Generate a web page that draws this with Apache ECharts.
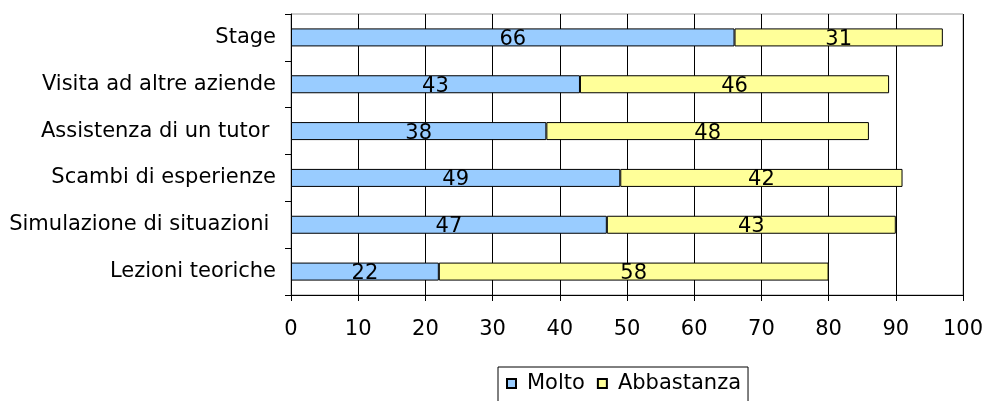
<!DOCTYPE html>
<html><head><meta charset="utf-8">
<script src="https://cdn.jsdelivr.net/npm/echarts@6/dist/echarts.min.js"></script>
<style>html,body{margin:0;padding:0;background:#fff}#c{width:987px;height:401px}</style>
</head><body><div id="c"></div>
<script>
const categories = ["Lezioni teoriche","Simulazione di situazioni ","Scambi di esperienze","Assistenza di un tutor ","Visita ad altre aziende","Stage"];
const molto = [22,47,49,38,43,66];
const abbastanza = [58,43,42,48,46,31];
const xTicks = [0,10,20,30,40,50,60,70,80,90,100];
const font = "DejaVu Sans, Verdana, sans-serif";
const fs = 21;
const chart = echarts.init(document.getElementById('c'));
const lbl = {show:true, position:'inside', color:'#000', fontFamily:font, fontSize:fs, offset:[0,2]};
chart.setOption({
  animation:false,
  grid:{left:291,right:24,top:14,bottom:106,show:true,borderColor:'#999',borderWidth:1,backgroundColor:'transparent'},
  xAxis:{type:'value',min:0,max:100,interval:10,
    axisLine:{show:true,lineStyle:{color:'#000',width:1}},
    axisTick:{show:true,length:6,lineStyle:{color:'#000'}},
    axisLabel:{color:'#000',fontFamily:font,fontSize:fs,margin:24,formatter:v=>xTicks.includes(v)?String(v):''},
    splitLine:{show:true,lineStyle:{color:'#000',width:1}}},
  yAxis:{type:'category',data:categories,
    axisLine:{show:true,lineStyle:{color:'#000',width:1}},
    axisTick:{show:true,length:6,lineStyle:{color:'#000'}},
    axisLabel:{color:'#000',fontFamily:font,fontSize:fs,margin:15}},
  legend:{top:367,left:498,itemWidth:9,itemHeight:9,itemGap:12,
    borderColor:'#000',borderWidth:1,padding:[6,7,14,8],
    textStyle:{color:'#000',fontFamily:font,fontSize:fs,padding:[0,0,0,6]},
    data:[{name:'Molto',icon:'rect'},{name:'Abbastanza',icon:'rect'}]},
  series:[
    {name:'Molto',type:'bar',stack:'a',data:molto,barWidth:18,
     itemStyle:{color:'#99CCFF',borderColor:'#000',borderWidth:1},label:lbl},
    {name:'Abbastanza',type:'bar',stack:'a',data:abbastanza,barWidth:18,
     itemStyle:{color:'#FFFF99',borderColor:'#000',borderWidth:1},label:lbl}
  ]
});
</script></body></html>
